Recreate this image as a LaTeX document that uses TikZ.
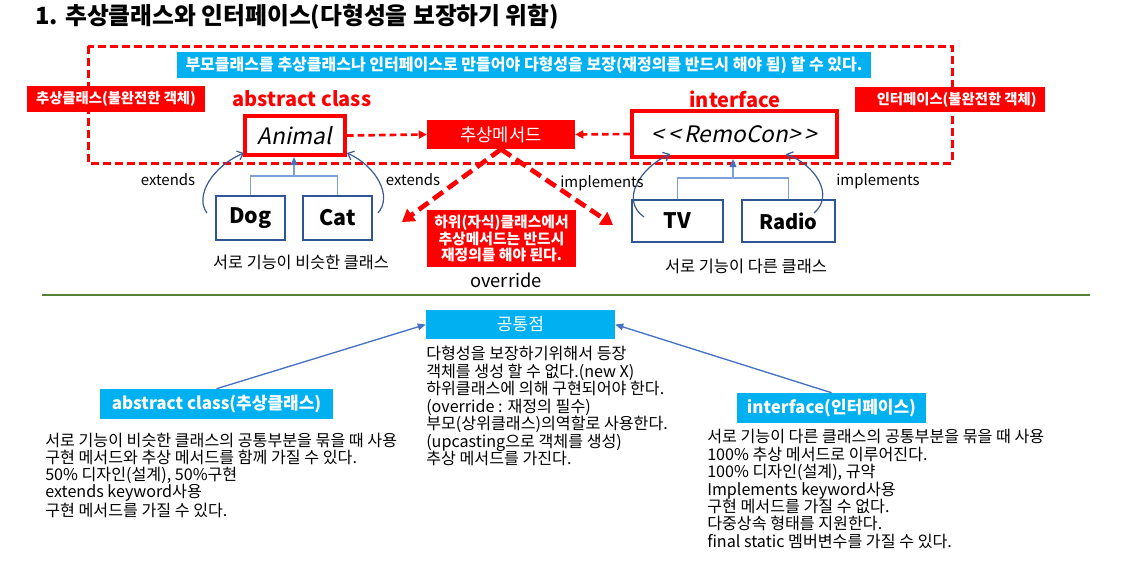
\documentclass[tikz,border=0pt]{standalone}
\usepackage{fontspec}
\setmainfont{Noto Sans CJK KR}
\newfontfamily\slfont[FakeSlant=0.2]{Noto Sans CJK KR}
\usetikzlibrary{arrows.meta,calc}
\definecolor{cy}{HTML}{00B0F0}
\definecolor{dkblue}{HTML}{2F5597}
\definecolor{treeblue}{HTML}{7F9FD8}
\definecolor{tipblue}{HTML}{4472C4}
\definecolor{curveblue}{HTML}{3B5A94}
\definecolor{divgreen}{HTML}{548235}
\newcommand\myfs[2]{\fontsize{#1}{#2}\selectfont}
\begin{document}
\begin{tikzpicture}[x=0.75pt,y=-0.75pt,
  redbox/.style={fill=red,text=white,inner sep=0pt},
  cyanbox/.style={fill=cy,text=white,inner sep=0pt},
  clsbox/.style={draw=dkblue,line width=1.5pt,inner sep=0pt,font=\myfs{16}{19}\bfseries},
  ifbox/.style={draw=red,line width=3pt,inner sep=0pt,font=\slfont\myfs{17}{20}},
  dasharrow/.style={red,line width=2pt,dash pattern=on 5pt off 3pt,-{Triangle[length=6pt,width=6pt]}},
  bigdash/.style={red,line width=3.5pt,dash pattern=on 9pt off 4.5pt,-{Triangle[length=9pt,width=11pt]}},
  tree/.style={treeblue,line width=1.2pt},
  treearr/.style={tree,-{Triangle[length=6pt,width=5pt,color=tipblue]}},
  curvearr/.style={curveblue,line width=0.9pt,-{Straight Barb[length=4pt,width=7pt]}},
  lbl/.style={inner sep=0pt,font=\myfs{11.2}{13}},
  body/.style={inner sep=0pt,align=left,anchor=north west,font=\myfs{12.1}{13.1}},
  botarr/.style={tipblue,line width=1pt,-{Triangle[length=6pt,width=5pt]}},
]
\useasboundingbox (0,0) rectangle (1124,564);

% title
\node[inner sep=0pt,anchor=west,font=\myfs{17.8}{21}\bfseries] (title) at (35,17) {1. 추상클래스와 인터페이스(다형성을 보장하기 위함)};

% dashed frame
\draw[red,line width=2.25pt,dash pattern=on 6pt off 3pt] (88,46) rectangle (952,163);

% banner
\node[cyanbox,minimum width=520.5pt,minimum height=19.5pt,font=\myfs{12}{14}\bfseries] (banner) at (524,65) {부모클래스를 추상클래스나 인터페이스로 만들어야 다형성을 보장(재정의를 반드시 해야 됨) 할 수 있다.};

% side labels
\node[redbox,minimum width=133.5pt,minimum height=19.5pt,font=\myfs{10.75}{12}\bfseries] (lab1) at (116,99) {추상클래스(불완전한 객체)};
\node[redbox,minimum height=19pt,font=\myfs{10.75}{12}\bfseries] (lab2) at (950,99.5) {\hspace*{16pt}인터페이스(불완전한 객체)\hspace*{6pt}};

\node[inner sep=0pt,text=red,font=\myfs{15}{18}\bfseries] (abslbl) at (302,99) {abstract class};
\node[inner sep=0pt,text=red,font=\myfs{15}{18}\bfseries] (intlbl) at (735,99) {interface};

% main boxes
\node[ifbox,minimum width=75pt,minimum height=29.25pt] (animal) at (295,135.5) {Animal};
\node[redbox,minimum width=111pt,minimum height=21.75pt,font=\myfs{13.3}{15}] (absm) at (501,134.5) {추상메서드};
\node[ifbox,minimum width=153.75pt,minimum height=34.5pt] (remo) at (734.5,134) {<\,<\,RemoCon>\,>};

\draw[dasharrow] (animal.east) -- (absm.west);
\draw[dasharrow] (remo.west) -- (absm.east);

% subclasses
\node[clsbox,minimum width=51.75pt,minimum height=33pt] (dog) at (250.5,218) {Dog};
\node[clsbox,minimum width=51.75pt,minimum height=33pt] (cat) at (337.5,218) {Cat};
\node[clsbox,minimum width=68.25pt,minimum height=31.5pt] (tv) at (677.5,221) {TV};
\node[clsbox,minimum width=69.75pt,minimum height=31.5pt,font=\myfs{15}{18}\bfseries] (radio) at (788.5,221) {Radio};

% trees
\coordinate (t1) at ($(dog.north)!.5!(cat.north)+(0,-19)$);
\draw[tree] (dog.north) -- ++(0,-19) -| (cat.north);
\draw[treearr] (t1) -- (t1 |- animal.south);
\coordinate (t2) at ($(tv.north)!.5!(radio.north)+(0,-21)$);
\draw[tree] (tv.north) -- ++(0,-21) -| (radio.north);
\draw[treearr] (t2) -- (t2 |- remo.south);

% curved arrows
\draw[curvearr] ($(dog.west)+(-8,-5)$) .. controls (194,196) and (213,166) .. ($(animal.south west)+(1,-4)$);
\draw[curvearr] ($(cat.east)+(5,-5)$) .. controls (393,196) and (376,166) .. ($(animal.south east)+(0,-4)$);
\draw[curvearr] ($(tv.west)+(13,-4)$) .. controls (620,200) and (640,168) .. ($(remo.south west)+(40,-5)$);
\draw[curvearr] ($(radio.east)+(-22,-8)$) .. controls (835,195) and (815,165) .. ($(remo.south east)+(-53,-5)$);

\node[lbl] (ext1) at (168,180) {extends};
\node[lbl] (ext2) at (413,180) {extends};
\node[lbl] (imp1) at (602,183) {implements};
\node[lbl] (imp2) at (878,181) {implements};

% override
\coordinate (ol) at (402,222);
\coordinate (or) at (613,225);
\draw[bigdash] (absm.south) -- (ol);
\draw[bigdash] (absm.south) -- (or);
\node[redbox,minimum width=111.75pt,minimum height=42.75pt,align=center,font=\myfs{11.1}{12.6}\bfseries] (ovbox) at (501.5,238.5) {하위(자식)클래스에서\\추상메서드는 반드시\\재정의를 해야 된다.};
\node[inner sep=0pt,font=\myfs{13.7}{16}] (ovtxt) at (506,280) {override};

\node[inner sep=0pt,font=\myfs{12.2}{14}] (sim) at (301,262) {서로 기능이 비슷한 클래스};
\node[inner sep=0pt,font=\myfs{12.3}{14}] (dif) at (746,266) {서로 기능이 다른 클래스};

% divider
\draw[divgreen,line width=1.1pt] (42,295) -- (1090,295);

% bottom
\node[cyanbox,minimum width=141.75pt,minimum height=21.75pt,font=\myfs{12.8}{15}] (common) at (520.5,324.5) {공통점};
\node[body] (ctext) at (426,346) {다형성을 보장하기위해서 등장\\객체를 생성 할 수 없다.(new X)\\하위클래스에 의해 구현되어야 한다.\\(override : 재정의 필수)\\부모(상위클래스)의역할로 사용한다.\\(upcasting으로 객체를 생성)\\추상 메서드를 가진다.};

\node[cyanbox,minimum width=174.75pt,minimum height=22.5pt,font=\myfs{12.75}{15}\bfseries] (absb) at (216.5,404) {abstract class(추상클래스)};
\node[cyanbox,minimum width=141.75pt,minimum height=22.5pt,font=\myfs{12.75}{15}\bfseries] (intb) at (831.5,408) {interface(인터페이스)};

\draw[botarr] (absb.north) -- (common.west);
\draw[botarr] (intb.north) -- (common.east);

\node[body,font=\myfs{12.1}{12.75}] (ltext) at (45,433) {서로 기능이 비슷한 클래스의 공통부분을 묶을 때 사용\\구현 메서드와 추상 메서드를 함께 가질 수 있다.\\50\% 디자인(설계), 50\%구현\\extends keyword사용\\구현 메서드를 가질 수 있다.};
\node[body] (rtext) at (707,429) {서로 기능이 다른 클래스의 공통부분을 묶을 때 사용\\100\% 추상 메서드로 이루어진다.\\100\% 디자인(설계), 규약\\Implements keyword사용\\구현 메서드를 가질 수 없다.\\다중상속 형태를 지원한다.\\final static 멤버변수를 가질 수 있다.};
\end{tikzpicture}
\end{document}
